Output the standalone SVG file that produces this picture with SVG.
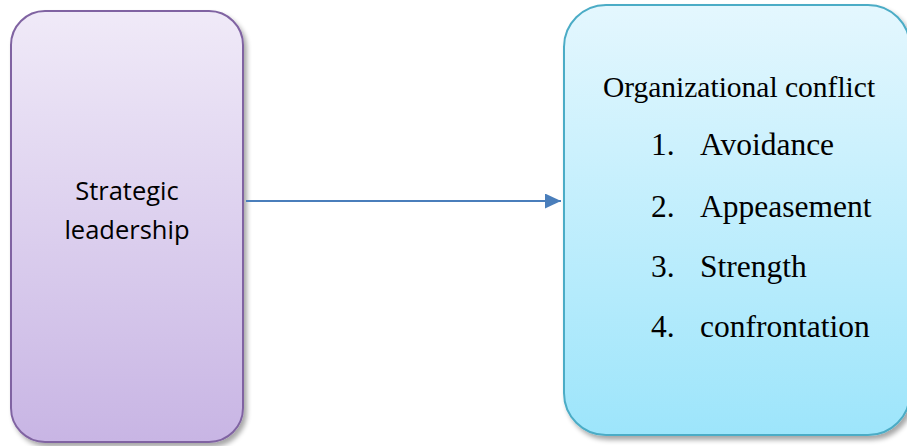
<svg xmlns="http://www.w3.org/2000/svg" width="907" height="446" viewBox="0 0 907 446">
  <defs>
    <linearGradient id="purpleFill" x1="0" y1="0" x2="0" y2="1">
      <stop offset="0" stop-color="#f0eaf8"/>
      <stop offset="1" stop-color="#c8b5e4"/>
    </linearGradient>
    <linearGradient id="aquaFill" x1="0" y1="0" x2="0" y2="1">
      <stop offset="0" stop-color="#e4f7fe"/>
      <stop offset="1" stop-color="#9de5fb"/>
    </linearGradient>
    <filter id="shadow" x="-10%" y="-10%" width="130%" height="130%">
      <feGaussianBlur in="SourceAlpha" stdDeviation="2.5"/>
      <feOffset dx="3" dy="4" result="blur"/>
      <feComponentTransfer><feFuncA type="linear" slope="0.35"/></feComponentTransfer>
      <feMerge><feMergeNode/><feMergeNode in="SourceGraphic"/></feMerge>
    </filter>
    <marker id="arrowHead" markerWidth="16" markerHeight="15" refX="16" refY="7.5" orient="auto" markerUnits="userSpaceOnUse">
      <path d="M0,0 L16,7.5 L0,15 Z" fill="#4a7ebb"/>
    </marker>
  </defs>
  <style>
    .label { font-family: "Open Sans", "DejaVu Sans", sans-serif; font-size: 25.5px; fill: #000; text-anchor: middle; }
    .serif { font-family: "Liberation Serif", "Times New Roman", serif; fill: #000; }
    .head { font-size: 29.5px; text-anchor: middle; }
    .item { font-size: 31.5px; }
  </style>
  <rect width="907" height="446" fill="#ffffff"/>

  <g id="node-strategic-leadership">
    <rect x="11" y="11" width="232" height="431" rx="34" ry="34" fill="url(#purpleFill)" stroke="#8064a2" stroke-width="2" filter="url(#shadow)"/>
    <text class="label" x="127" y="200">Strategic</text>
    <text class="label" x="127" y="239">leadership</text>
  </g>

  <g id="node-organizational-conflict">
    <rect x="564" y="5" width="346" height="430" rx="42" ry="42" fill="url(#aquaFill)" stroke="#4bacc6" stroke-width="2" filter="url(#shadow)"/>
    <text class="serif head" x="739" y="97">Organizational conflict</text>
    <text class="serif item" x="651" y="155">1.</text>
    <text class="serif item" x="700" y="155">Avoidance</text>
    <text class="serif item" x="651" y="217">2.</text>
    <text class="serif item" x="700" y="217">Appeasement</text>
    <text class="serif item" x="651" y="277">3.</text>
    <text class="serif item" x="700" y="277">Strength</text>
    <text class="serif item" x="651" y="337">4.</text>
    <text class="serif item" x="700" y="337">confrontation</text>
  </g>

  <g id="connectors">
    <line x1="246" y1="201" x2="561" y2="201" stroke="#4a7ebb" stroke-width="2" marker-end="url(#arrowHead)"/>
  </g>
</svg>
